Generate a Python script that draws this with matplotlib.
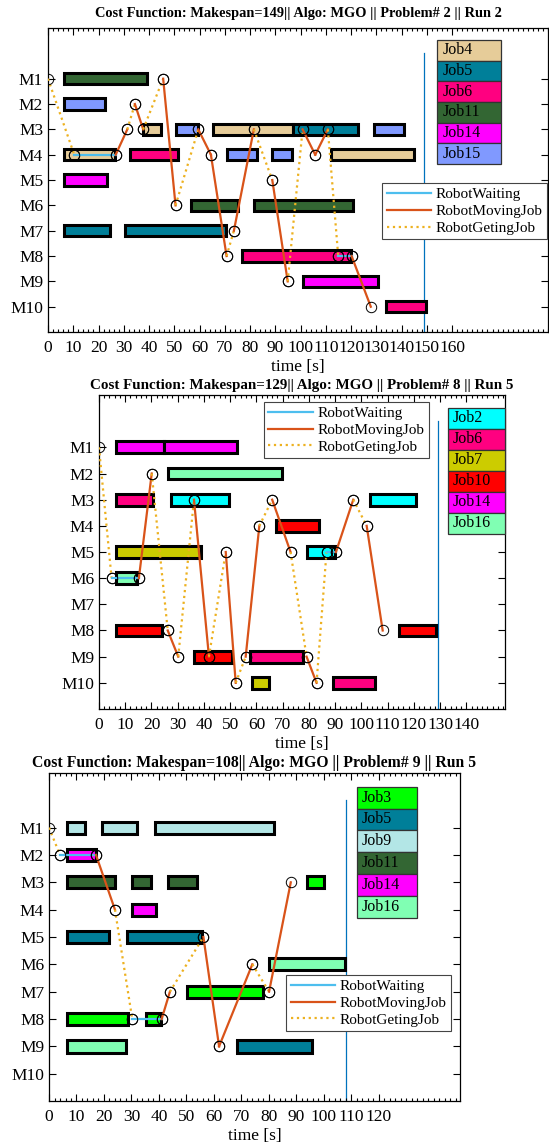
import numpy as np
import matplotlib.pyplot as plt
from matplotlib.patches import Rectangle
from matplotlib.lines import Line2D
from matplotlib.ticker import MultipleLocator

plt.rcParams['font.family'] = 'serif'
plt.rcParams['font.serif'] = ['Liberation Serif', 'DejaVu Serif']

# ---- panel 1: problem 2, run 2 ----
p1_makespan = 149
p1_jobs = ['Job4', 'Job5', 'Job6', 'Job11', 'Job14', 'Job15']
p1_bar_job = ['Job11', 'Job15', 'Job4', 'Job15', 'Job4', 'Job5', 'Job15',
              'Job4', 'Job6', 'Job15', 'Job15', 'Job4', 'Job14',
              'Job11', 'Job11', 'Job5', 'Job5', 'Job6', 'Job14', 'Job6']
p1_bar_machine = [1, 2, 3, 3, 3, 3, 3, 4, 4, 4, 4, 4, 5, 6, 6, 7, 7, 8, 9, 10]
p1_bar_start = [6.5, 6.5, 37.5, 50.7, 65.5, 97, 129, 6.5, 32.6, 70.8, 88.6, 112,
                6.5, 56.6, 81.6, 6.5, 30.6, 76.8, 100.8, 133.8]
p1_bar_end = [39.3, 22.6, 44.6, 59.5, 97, 122.8, 141, 26.5, 51.4, 82.6, 96.6, 144.8,
              23.2, 75.3, 120.7, 24.4, 70.6, 119.8, 130.7, 149.8]
p1_path_t = [0, 10.4, 26.8, 31.4, 34.4, 37.7, 45.6, 50.5, 59.5, 64.5, 70.7,
             73.6, 81.5, 88.8, 94.9, 100.8, 105.8, 110.8, 114.9, 120.2, 127.8]
p1_path_m = [1, 4, 4, 3, 2, 3, 1, 6, 3, 4, 8, 7, 3, 5, 9, 3, 4, 3, 8, 8, 10]
p1_path_kind = ['get', 'wait', 'move', 'get', 'move', 'get', 'move', 'get', 'move',
                'move', 'get', 'move', 'get', 'move', 'get', 'move', 'move', 'get',
                'wait', 'move']

# ---- panel 2: problem 8, run 5 ----
p2_makespan = 129
p2_jobs = ['Job2', 'Job6', 'Job7', 'Job10', 'Job14', 'Job16']
p2_bar_job = ['Job14', 'Job14', 'Job16', 'Job6', 'Job2', 'Job2', 'Job10', 'Job7',
              'Job2', 'Job16', 'Job10', 'Job10', 'Job10', 'Job6', 'Job7', 'Job6']
p2_bar_machine = [1, 1, 2, 3, 3, 3, 4, 5, 5, 6, 8, 8, 9, 9, 10, 10]
p2_bar_start = [6.5, 24.9, 26.4, 6.5, 27.4, 103.4, 67.4, 6.5, 79.3, 6.5, 6.5, 114.2,
                36.3, 57.5, 58.2, 89.3]
p2_bar_end = [24.9, 52.7, 69.8, 20.6, 49.5, 120.9, 83.8, 38.7, 89.9, 14.6, 23.9, 128.6,
              50.8, 77.8, 64.7, 105]
p2_path_t = [0, 4.8, 15.2, 20.1, 26.2, 30.2, 36.2, 41.9, 48.3, 52.1, 55.9, 61.1,
             66, 73, 79.1, 82.9, 86.7, 90.3, 96.9, 102, 108.1]
p2_path_m = [1, 6, 6, 2, 8, 9, 3, 9, 5, 10, 9, 4, 3, 5, 9, 10, 5, 5, 3, 4, 8]
p2_path_kind = ['get', 'wait', 'move', 'get', 'move', 'get', 'move', 'get', 'move',
                'get', 'move', 'get', 'move', 'get', 'move', 'get', 'wait', 'move',
                'get', 'move']

# ---- panel 3: problem 9, run 5 ----
p3_makespan = 108
p3_jobs = ['Job3', 'Job5', 'Job9', 'Job11', 'Job14', 'Job16']
p3_bar_job = ['Job9', 'Job9', 'Job9', 'Job14', 'Job11', 'Job11', 'Job11', 'Job3',
              'Job14', 'Job5', 'Job5', 'Job16', 'Job3', 'Job3', 'Job3', 'Job16', 'Job5']
p3_bar_machine = [1, 1, 1, 2, 3, 3, 3, 3, 4, 5, 5, 6, 7, 8, 8, 9, 9]
p3_bar_start = [6.4, 19.2, 38.4, 6.4, 6.4, 30.3, 43.2, 94, 30.3, 6.4, 28.3, 80.2,
                50.2, 6.4, 35.3, 6.4, 68.4]
p3_bar_end = [13, 31.9, 81.9, 17, 23.9, 37, 53.8, 100.1, 38.8, 21.8, 55.8, 107.7,
              77.9, 28.8, 40.9, 27.9, 95.8]
p3_path_t = [0, 4, 17.1, 24, 30.3, 41, 44, 56.2, 61.9, 74, 80.1, 88]
p3_path_m = [1, 2, 2, 4, 8, 8, 7, 5, 9, 6, 7, 3]
p3_path_kind = ['get', 'wait', 'move', 'get', 'wait', 'move', 'get', 'move', 'move',
                'get', 'move']

job_colors = {'Job2': '#00FFFF', 'Job3': '#00FF00', 'Job4': '#E6CC99',
              'Job5': '#007F99', 'Job6': '#FF0080', 'Job7': '#CCCC00',
              'Job9': '#B3E6E6', 'Job10': '#FF0000', 'Job11': '#336633',
              'Job14': '#FF00FF', 'Job15': '#8099FF', 'Job16': '#80FFB3'}
kind_style = {'wait': dict(color='#4DBEEE', ls='-'),
              'move': dict(color='#D95319', ls='-'),
              'get': dict(color='#EDB120', ls=':')}
machines = np.arange(1, 11)
machine_labels = ['M%d' % m for m in machines]


def draw_panel(ax, title, makespan, xmax, xticks, jobs, bar_job, bar_m, bar_s, bar_e,
               path_t, path_m, path_kind, jleg, rleg, tpad=4, tsize=10.3):
    for j, m, s, e in zip(bar_job, bar_m, bar_s, bar_e):
        ax.add_patch(Rectangle((s, m - 0.225), e - s, 0.45, facecolor=job_colors[j],
                               edgecolor='k', lw=2.2, zorder=2))
    for i, k in enumerate(path_kind):
        ax.plot(path_t[i:i + 2], path_m[i:i + 2], lw=1.6, marker='o', ms=7.5,
                mfc='none', mec='k', mew=0.7, zorder=3, **kind_style[k])
    ax.plot([makespan, makespan], [0, 11], color='#0072BD', lw=0.9, zorder=1)

    ax.set_xlim(0, xmax)
    ax.set_ylim(11, -1)
    ax.set_xticks(xticks)
    ax.xaxis.set_minor_locator(MultipleLocator(2))
    ax.set_yticks(machines)
    ax.set_yticklabels(machine_labels)
    ax.tick_params(which='both', direction='in', top=True, right=True,
                   labelsize=12.5, width=0.8)
    ax.tick_params(which='major', length=5)
    ax.tick_params(which='minor', length=2.5)
    ax.tick_params(axis='x', pad=6)
    for sp in ax.spines.values():
        sp.set_linewidth(0.9)
    ax.set_xlabel('time [s]', fontsize=12.5, labelpad=2)
    ax.set_title(title, fontsize=tsize, fontweight='bold', pad=tpad)

    # job colour legend
    x0, x1, top, rh = jleg
    for i, j in enumerate(jobs):
        y = top - (i + 1) * rh
        ax.add_patch(Rectangle((x0, y), x1 - x0, rh, transform=ax.transAxes,
                               facecolor=job_colors[j], edgecolor='#333333',
                               lw=0.9, zorder=5, clip_on=False))
        ax.text(x0 + 0.012, y + rh / 2, j, transform=ax.transAxes, fontsize=11.5,
                va='center', ha='left', zorder=6)

    handles = [Line2D([], [], lw=1.6, **kind_style[k]) for k in ['wait', 'move', 'get']]
    leg = ax.legend(handles, ['RobotWaiting', 'RobotMovingJob', 'RobotGetingJob'],
                    loc='upper left', bbox_to_anchor=rleg, borderaxespad=0,
                    fontsize=11, handlelength=2.9, handletextpad=0.3,
                    labelspacing=0.2, borderpad=0.3, fancybox=False,
                    edgecolor='#444444', framealpha=1)
    leg.get_frame().set_linewidth(0.8)
    leg.set_zorder(7)


fig = plt.figure(figsize=(5.49, 11.45), dpi=100)
ax1 = fig.add_axes([0.0874, 0.710, 0.911, 0.2655])
ax2 = fig.add_axes([0.1803, 0.3808, 0.7395, 0.2742])
ax3 = fig.add_axes([0.0893, 0.0384, 0.7486, 0.2865])

draw_panel(ax1, 'Cost Function: Makespan=149|| Algo: MGO || Problem# 2 || Run 2',
           p1_makespan, 198, np.arange(0, 161, 10), p1_jobs, p1_bar_job, p1_bar_machine,
           p1_bar_start, p1_bar_end, p1_path_t, p1_path_m, p1_path_kind,
           (0.777, 0.906, 0.9605, 0.068), (0.668, 0.49), tpad=8, tsize=10.35)
draw_panel(ax2, 'Cost Function: Makespan=129|| Algo: MGO || Problem# 8 || Run 5',
           p2_makespan, 154.7, np.arange(0, 141, 10), p2_jobs, p2_bar_job, p2_bar_machine,
           p2_bar_start, p2_bar_end, p2_path_t, p2_path_m, p2_path_kind,
           (0.860, 1.0, 0.9596, 0.0669), (0.406, 0.978), tsize=10.85)
draw_panel(ax3, 'Cost Function: Makespan=108|| Algo: MGO || Problem# 9 || Run 5',
           p3_makespan, 149.6, np.arange(0, 121, 10), p3_jobs, p3_bar_job, p3_bar_machine,
           p3_bar_start, p3_bar_end, p3_path_t, p3_path_m, p3_path_kind,
           (0.7487, 0.8946, 0.958, 0.0665), (0.577, 0.384), tsize=11.35)

fig.savefig('out.png', dpi=100)
